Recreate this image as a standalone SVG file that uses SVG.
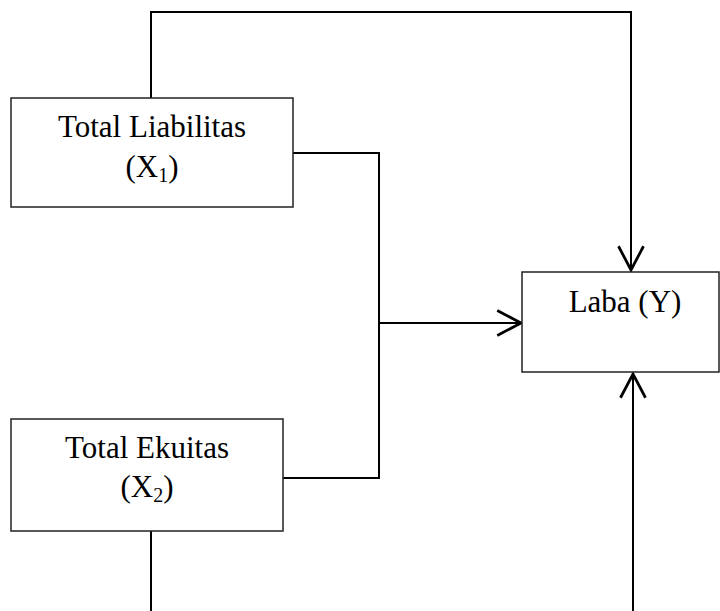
<svg xmlns="http://www.w3.org/2000/svg" width="720" height="611" viewBox="0 0 720 611">
<style>
.box{fill:#fff;stroke:#222;stroke-width:1.5}
.con{fill:none;stroke:#000;stroke-width:2}
text{font-family:"Liberation Serif","Times New Roman",serif;font-size:31px;fill:#000;text-anchor:middle}
.sub{font-size:20px}
</style>
<defs>
<marker id="arr" markerUnits="userSpaceOnUse" markerWidth="30" markerHeight="30" viewBox="-22 -12 24 24" refX="0" refY="0" orient="auto">
<path d="M-19,-10 L0,0 L-19,10" fill="none" stroke="#000" stroke-width="2.2"/>
</marker>
</defs>
<g id="connectors">
<path class="con" d="M151,98 V12 H631 V270" marker-end="url(#arr)"/>
<path class="con" d="M293,153 H379 V478 H283"/>
<path class="con" d="M379,323 H521" marker-end="url(#arr)"/>
<path class="con" d="M151,531 V611"/>
<path class="con" d="M633,611 V374" marker-end="url(#arr)"/>
</g>
<g id="x1">
<rect class="box" x="11" y="98" width="282" height="109"/>
<text x="152" y="137">Total Liabilitas</text>
<text x="152" y="177">(X<tspan class="sub" dy="5">1</tspan><tspan dy="-5">)</tspan></text>
</g>
<g id="x2">
<rect class="box" x="11" y="419" width="272" height="112"/>
<text x="147" y="458">Total Ekuitas</text>
<text x="147" y="497">(X<tspan class="sub" dy="5">2</tspan><tspan dy="-5">)</tspan></text>
</g>
<g id="y">
<rect class="box" x="522" y="272" width="197" height="100"/>
<text x="625" y="312">Laba (Y)</text>
</g>
</svg>
